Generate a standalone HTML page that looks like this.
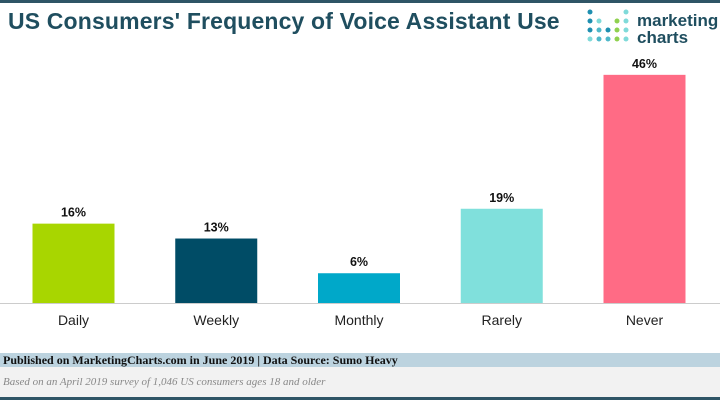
<!DOCTYPE html>
<html><head><meta charset="utf-8"><style>
body{margin:0;width:720px;height:400px;overflow:hidden;background:#fff;font-family:"Liberation Sans",sans-serif;position:relative}
.top{position:absolute;left:0;top:0;width:720px;height:3px;background:#2f5566}
.title{position:absolute;left:8px;top:8px;font-size:23px;font-weight:bold;color:#1f4e5f;letter-spacing:0.15px}
.logo{position:absolute;left:586px;top:6px}
.f1{position:absolute;left:0;top:353px;width:720px;height:14px;background:#bcd3df;font-size:12px;font-weight:bold;font-family:"Liberation Serif",serif;line-height:14px;padding-left:3px;box-sizing:border-box;color:#111}
.f2{position:absolute;left:0;top:367px;width:720px;height:30px;background:#f2f2f2;font-size:11px;font-style:italic;color:#888;font-family:"Liberation Serif",serif;padding:9px 3px;box-sizing:border-box}
.bot{position:absolute;left:0;top:397px;width:720px;height:3px;background:#2f5566}
</style></head><body>
<div class="top"></div>
<div class="title">US Consumers' Frequency of Voice Assistant Use</div>
<svg class="logo" width="134" height="40">
<g fill="#4fb8c9">
<circle cx="4" cy="6" r="2.5" fill="#1e8fb0"/><circle cx="40" cy="6" r="2.5" fill="#7fdad9"/>
<circle cx="4" cy="15" r="2.5" fill="#1e8fb0"/><circle cx="13" cy="15" r="2.5" fill="#7fdad9"/><circle cx="31" cy="15" r="2.5" fill="#8fd14f"/><circle cx="40" cy="15" r="2.5" fill="#7fdad9"/>
<circle cx="4" cy="24" r="2.5" fill="#1e8fb0"/><circle cx="13" cy="24" r="2.5"/><circle cx="22" cy="24" r="2.5" fill="#1e8fb0"/><circle cx="31" cy="24" r="2.5" fill="#8fd14f"/><circle cx="40" cy="24" r="2.5" fill="#7fdad9"/>
<circle cx="4" cy="33" r="2.5" fill="#7fdad9"/><circle cx="13" cy="33" r="2.5"/><circle cx="22" cy="33" r="2.5"/><circle cx="31" cy="33" r="2.5" fill="#8fd14f"/><circle cx="40" cy="33" r="2.5" fill="#7fdad9"/>
</g>
<text x="51" y="20" font-size="17" font-weight="bold" fill="#1f4e5f" font-family="Liberation Sans, sans-serif">marketing</text>
<text x="51" y="37" font-size="17" font-weight="bold" fill="#1f4e5f" font-family="Liberation Sans, sans-serif">charts</text>
</svg>
<svg id="chart" width="720" height="340" style="position:absolute;left:0;top:0"></svg>
<div class="f1">Published on MarketingCharts.com in June 2019 | Data Source: Sumo Heavy</div>
<div class="f2">Based on an April 2019 survey of 1,046 US consumers ages 18 and older</div>
<div class="bot"></div>
<script>
const categories=["Daily","Weekly","Monthly","Rarely","Never"];
const values=[16,13,6,19,46];
const colors=["#a8d600","#004c66","#00a8c9","#80e0dc","#ff6b85"];
const svg=document.getElementById('chart');
const NS="http://www.w3.org/2000/svg";
const base=303,scale=4.96;
function y(v){return base-v*scale;}
function xc(i){return 73.5+i*142.75;}
categories.forEach((c,i)=>{
 const r=document.createElementNS(NS,'rect');
 r.setAttribute('x',xc(i)-41);r.setAttribute('y',y(values[i]));
 r.setAttribute('width',82);r.setAttribute('height',base-y(values[i]));
 r.setAttribute('fill',colors[i]);
 
 
 svg.appendChild(r);
 const t=document.createElementNS(NS,'text');
 t.setAttribute('x',xc(i));t.setAttribute('y',y(values[i])-7);
 t.setAttribute('text-anchor','middle');t.setAttribute('font-size','12.5');t.setAttribute('font-weight','bold');
 t.setAttribute('font-family','Liberation Sans, sans-serif');t.setAttribute('fill','#111');
 t.textContent=values[i]+'%';
 
 
 svg.appendChild(t);
 const l=document.createElementNS(NS,'text');
 l.setAttribute('x',xc(i));l.setAttribute('y',325);
 l.setAttribute('text-anchor','middle');l.setAttribute('font-size','14');
 l.setAttribute('font-family','Liberation Sans, sans-serif');l.setAttribute('fill','#222');
 l.textContent=c;
 
 
 svg.appendChild(l);
});
const ax=document.createElementNS(NS,'line');
ax.setAttribute('x1',0);ax.setAttribute('x2',720);ax.setAttribute('y1',base+0.5);ax.setAttribute('y2',base+0.5);
ax.setAttribute('stroke','#ccc');


svg.appendChild(ax);
</script>
</body></html>
